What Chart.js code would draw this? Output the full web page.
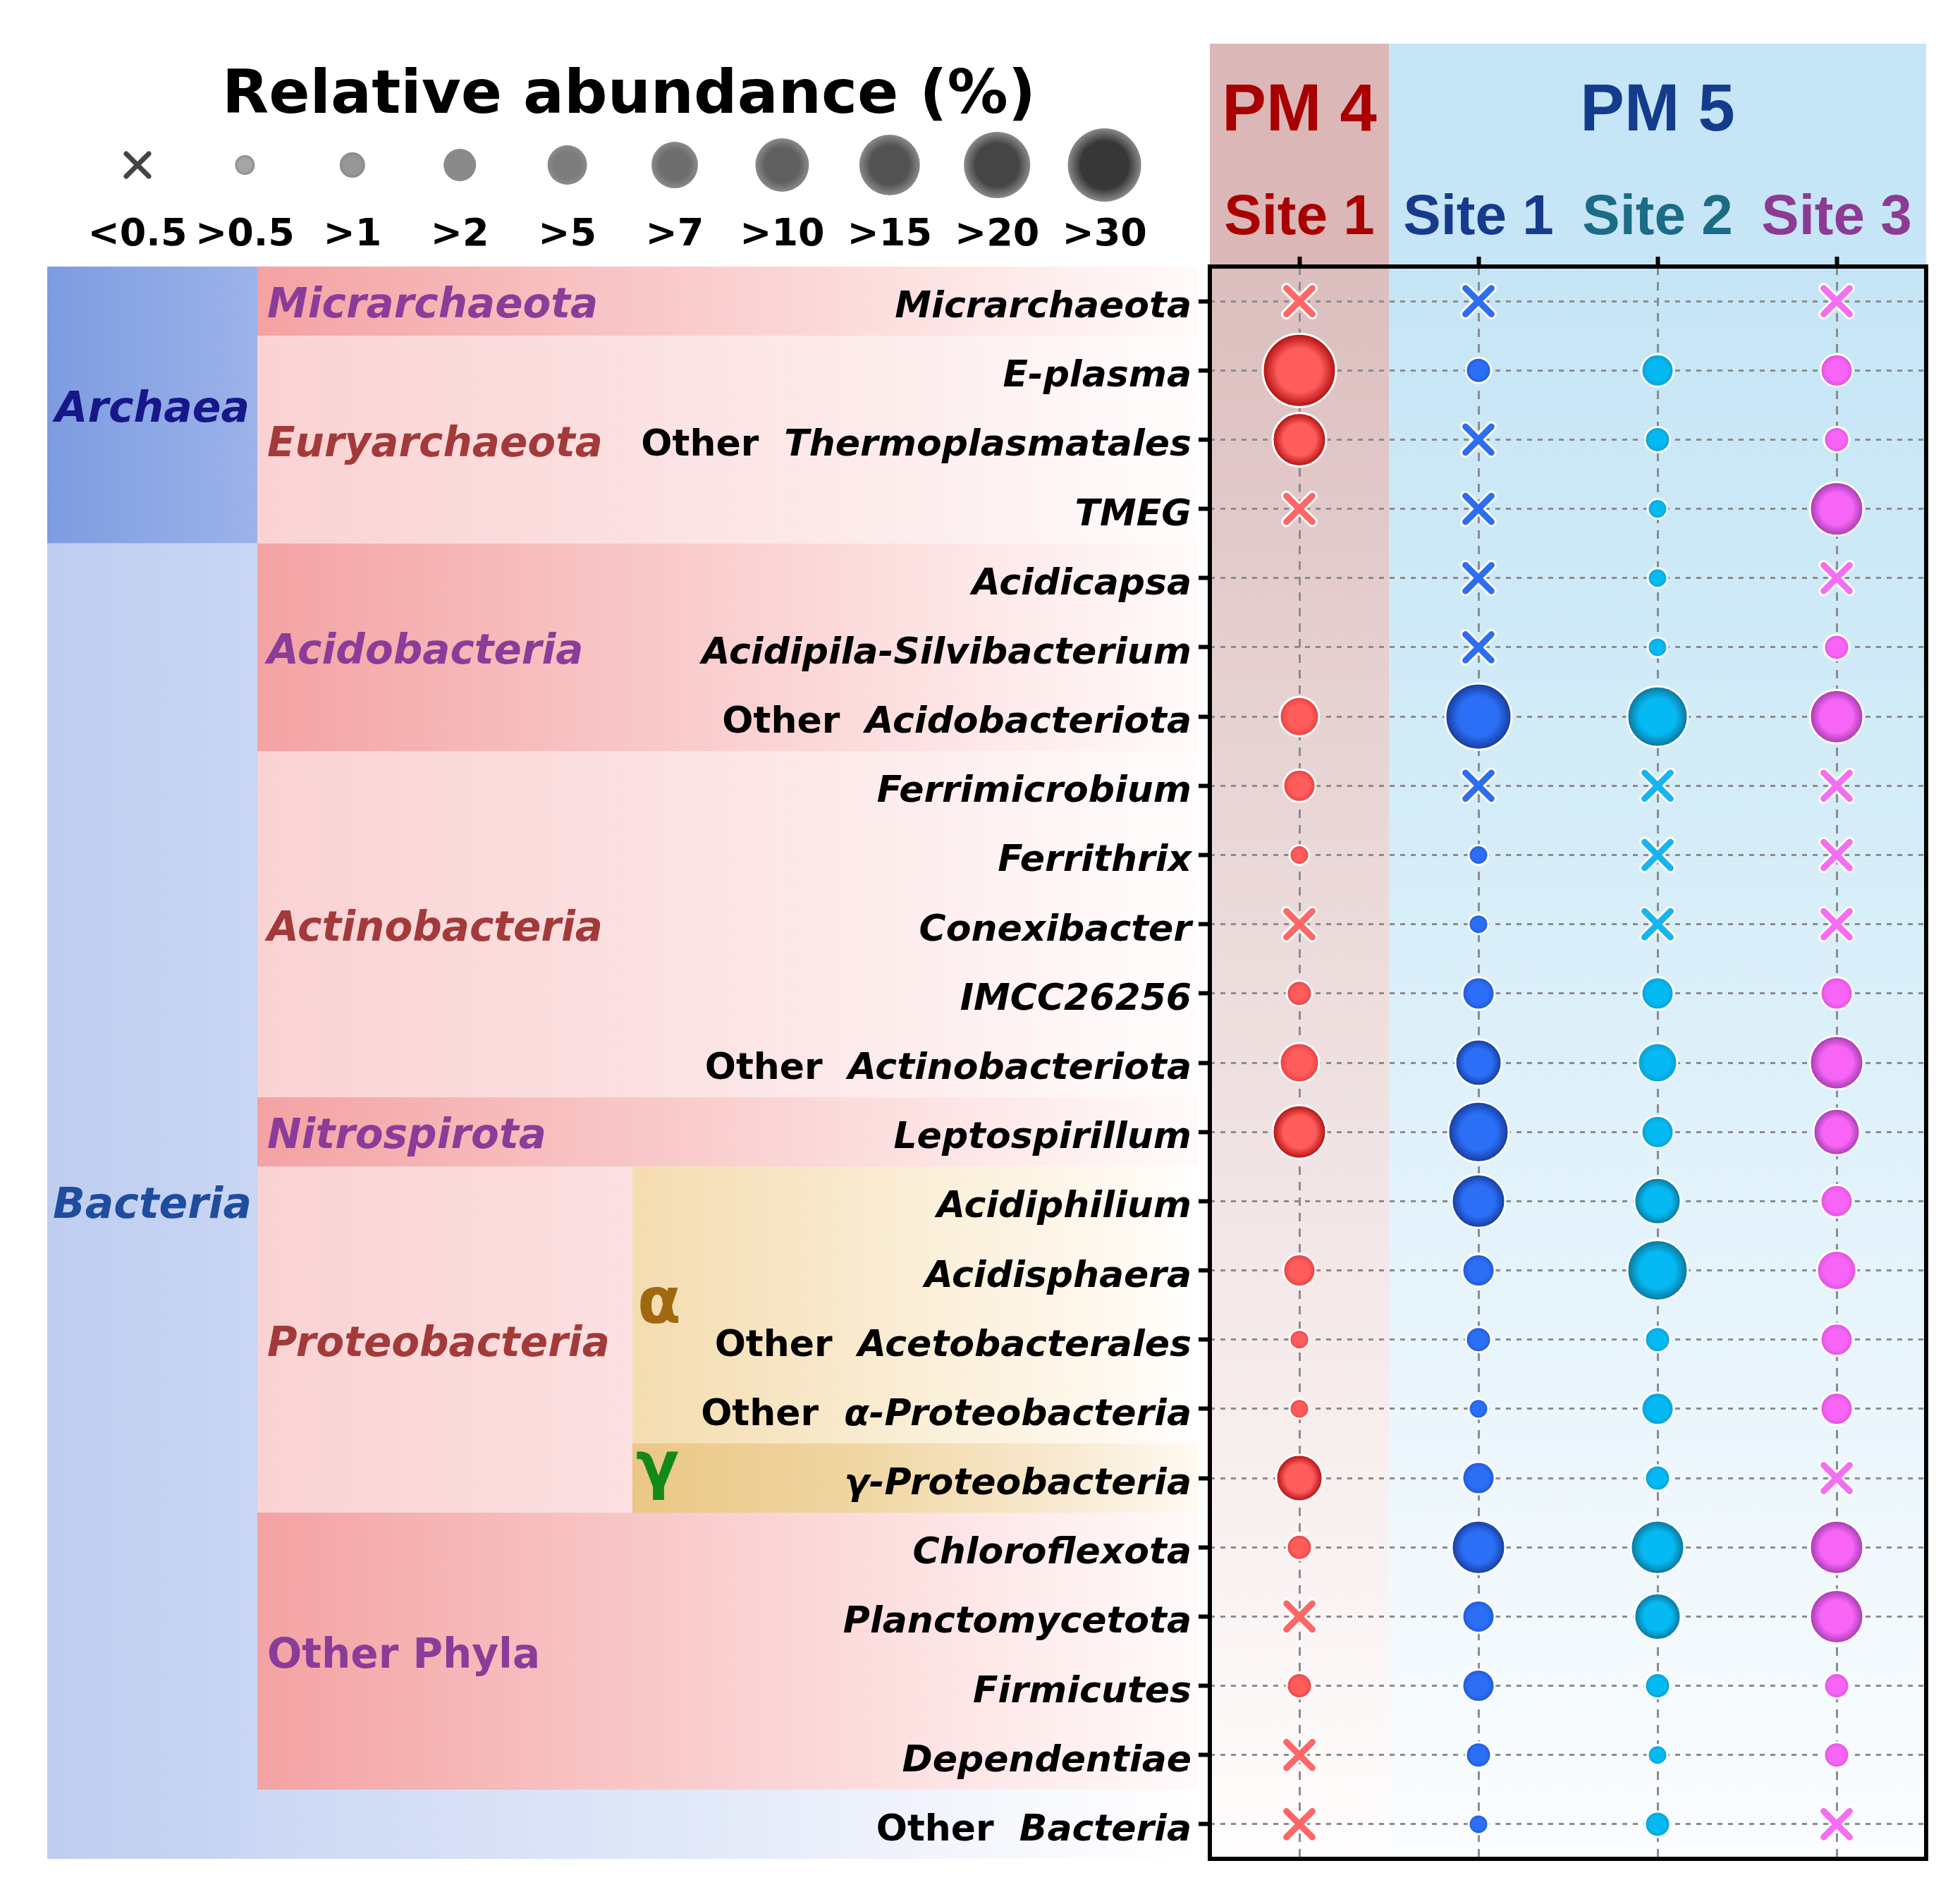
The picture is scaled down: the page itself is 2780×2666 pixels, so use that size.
<!DOCTYPE html>
<html>
<head>
<meta charset="utf-8">
<title>Relative abundance</title>
<script src="https://cdn.jsdelivr.net/npm/chart.js@4.4.1/dist/chart.umd.min.js"></script>
<style>
  html, body { margin: 0; padding: 0; background: #ffffff; }
  #wrap { width: 2780px; height: 2666px; }
  canvas { display: block; }
</style>
</head>
<body>
<div id="wrap"><canvas id="chart" width="2780" height="2666"></canvas></div>
<script>
// 行ラベル（分類群）
const taxa = [
  "Micrarchaeota", "E-plasma", "Other Thermoplasmatales", "TMEG",
  "Acidicapsa", "Acidipila-Silvibacterium", "Other Acidobacteriota",
  "Ferrimicrobium", "Ferrithrix", "Conexibacter", "IMCC26256", "Other Actinobacteriota",
  "Leptospirillum",
  "Acidiphilium", "Acidisphaera", "Other Acetobacterales", "Other α-Proteobacteria",
  "γ-Proteobacteria",
  "Chloroflexota", "Planctomycetota", "Firmicutes", "Dependentiae",
  "Other Bacteria",
];

// 列（サイト）
const siteKeys = ["PM4 Site 1", "PM5 Site 1", "PM5 Site 2", "PM5 Site 3"];
const siteLabels = ["Site 1", "Site 1", "Site 2", "Site 3"];
const mineLabels = ["PM 4", "PM 5"];

// 凡例の階級（0 = <0.5 は×印）
const abundanceLabels = ["<0.5", ">0.5", ">1", ">2", ">5", ">7", ">10", ">15", ">20", ">30"];

// 各サイトの相対存在量の階級（null = 記号なし）
const pm4Site1 = [0, 9, 6, 0, null, null, 4, 3, 1, 0, 2, 4, 6, null, 3, 1, 1, 5, 2, 0, 2, 0, 0];
const pm5Site1 = [0, 2, 0, 0, 0, 0, 8, 0, 1, 1, 3, 5, 7, 6, 3, 2, 1, 3, 6, 3, 3, 2, 1];
const pm5Site2 = [null, 3, 2, 1, 1, 1, 7, 0, 0, 0, 3, 4, 3, 5, 7, 2, 3, 2, 6, 5, 2, 1, 2];
const pm5Site3 = [0, 3, 2, 6, 0, 2, 6, 0, 0, 0, 3, 6, 5, 3, 4, 3, 3, 0, 6, 6, 2, 2, 0];

// 分類グループ
const domains = [
  { name: "Archaea", from: 0, to: 3 },
  { name: "Bacteria", from: 4, to: 22 },
];
const phyla = [
  { name: "Micrarchaeota", from: 0, to: 0, strong: true },
  { name: "Euryarchaeota", from: 1, to: 3, strong: false },
  { name: "Acidobacteria", from: 4, to: 6, strong: true },
  { name: "Actinobacteria", from: 7, to: 11, strong: false },
  { name: "Nitrospirota", from: 12, to: 12, strong: true },
  { name: "Proteobacteria", from: 13, to: 17, strong: false },
  { name: "Other Phyla", from: 18, to: 21, strong: true },
];
const proteoClasses = [
  { name: "α", from: 13, to: 16 },
  { name: "γ", from: 17, to: 17 },
];

// スタイル
const FONT = '"DejaVu Sans", sans-serif';
const HEAD_FONT = '"Liberation Sans", Arial, sans-serif';
const radiusByClass = [0, 14, 18, 23, 28, 33, 38, 43, 47, 52];
const crossRadius = 26;
const siteColors = [
  { light: "#ff5c5c", mid: "#e84040", dark: "#b00f0f", cross: "#ff6666", head: "#a80000" },
  { light: "#2a6ff6", mid: "#2358d2", dark: "#173a9a", cross: "#2d6ef0", head: "#163a8c" },
  { light: "#05b9f2", mid: "#0aa0d2", dark: "#0b7397", cross: "#18b4ee", head: "#1b6c86" },
  { light: "#f865f6", mid: "#dc54de", dark: "#a13cae", cross: "#f46ef4", head: "#8c3a94" },
];
const mineColors = ["#a80000", "#143c8c"];
const purple = "#8b3c99";
const brick = "#a33a3a";

// バブルの放射グラデーション
function bubbleFill(context, c) {
  const chart = context.chart;
  const raw = context.raw;
  if (!raw || !chart.scales.x || !context.parsed) return c.light;
  const px = chart.scales.x.getPixelForValue(context.parsed.x);
  const py = chart.scales.y.getPixelForValue(context.parsed.y);
  if (!isFinite(px) || !isFinite(py)) return c.light;
  const r = raw.r;
  const g = chart.ctx.createRadialGradient(px, py, 0, px, py, r);
  g.addColorStop(0, c.light);
  g.addColorStop(0.6, c.light);
  g.addColorStop(1, r >= 33 ? c.dark : c.mid);
  return g;
}

// データセットの作成
const siteSeries = [pm4Site1, pm5Site1, pm5Site2, pm5Site3];
const datasets = [];
siteSeries.forEach((series, s) => {
  const bubbles = [];
  const crosses = [];
  series.forEach((cls, i) => {
    if (cls === null) return;
    if (cls === 0) {
      crosses.push({ x: siteKeys[s], y: taxa[i], r: crossRadius });
    } else {
      bubbles.push({ x: siteKeys[s], y: taxa[i], r: radiusByClass[cls] });
    }
  });
  datasets.push({
    label: siteKeys[s],
    data: bubbles,
    backgroundColor: (ctx) => bubbleFill(ctx, siteColors[s]),
    borderColor: "#ffffff",
    borderWidth: 3,
    order: 1,
  });
  datasets.push({
    label: siteKeys[s] + " <0.5 outline",
    data: crosses,
    pointStyle: "crossRot",
    borderColor: "#ffffff",
    borderWidth: 15,
    order: 3,
  });
  datasets.push({
    label: siteKeys[s] + " <0.5",
    data: crosses,
    pointStyle: "crossRot",
    borderColor: siteColors[s].cross,
    borderWidth: 9,
    order: 2,
  });
});

function hGrad(ctx, x0, x1, stops) {
  const g = ctx.createLinearGradient(x0, 0, x1, 0);
  stops.forEach(([o, c]) => g.addColorStop(o, c));
  return g;
}

function drawCross(ctx, cx, cy, h, color, w) {
  ctx.save();
  ctx.strokeStyle = color;
  ctx.lineWidth = w;
  ctx.lineCap = "round";
  ctx.beginPath();
  ctx.moveTo(cx - h, cy - h);
  ctx.lineTo(cx + h, cy + h);
  ctx.moveTo(cx + h, cy - h);
  ctx.lineTo(cx - h, cy + h);
  ctx.stroke();
  ctx.restore();
}

// 背景（ヘッダー・分類帯・プロット背景）
const backdropPlugin = {
  id: "backdrop",
  beforeDraw(chart) {
    const { ctx, chartArea: a, scales } = chart;
    const ys = scales.y;
    const xs = scales.x;
    const rowTop = (i) => ys.getPixelForValue(i - 0.5);
    const rowBottom = (i) => ys.getPixelForValue(i + 0.5);
    const colL = (j) => xs.getPixelForValue(j - 0.5);
    const colR = (j) => xs.getPixelForValue(j + 0.5);
    const domX0 = 67;
    const domX1 = 365;
    const bandX1 = a.left - 16;
    const headTop = 62;

    ctx.save();
    // ヘッダー
    ctx.fillStyle = "#dbb7b7";
    ctx.fillRect(colL(0), headTop, colR(0) - colL(0), a.top - headTop);
    ctx.fillStyle = "#c6e5f6";
    ctx.fillRect(colL(1), headTop, colR(3) - colL(1), a.top - headTop);

    // プロット背景
    let g = ctx.createLinearGradient(0, a.top, 0, a.bottom);
    g.addColorStop(0, "#dcbebe");
    g.addColorStop(0.3, "#e8d3d3");
    g.addColorStop(0.55, "#f1e3e3");
    g.addColorStop(0.85, "#fbf4f4");
    g.addColorStop(1, "#fffdfd");
    ctx.fillStyle = g;
    ctx.fillRect(colL(0), a.top, colR(0) - colL(0), a.bottom - a.top);
    g = ctx.createLinearGradient(0, a.top, 0, a.bottom);
    g.addColorStop(0, "#c5e5f6");
    g.addColorStop(0.32, "#d3ecf8");
    g.addColorStop(0.58, "#e2f2fb");
    g.addColorStop(0.85, "#f2f9fd");
    g.addColorStop(1, "#fbfdff");
    ctx.fillStyle = g;
    ctx.fillRect(colL(1), a.top, colR(3) - colL(1), a.bottom - a.top);

    // ドメイン列
    const arch = domains[0];
    ctx.fillStyle = hGrad(ctx, domX0, domX1, [[0, "#7d9ce0"], [1, "#9cb3ea"]]);
    ctx.fillRect(domX0, rowTop(arch.from), domX1 - domX0, rowBottom(arch.to) - rowTop(arch.from));
    const bact = domains[1];
    ctx.fillStyle = hGrad(ctx, domX0, domX1, [[0, "#bfcdf0"], [1, "#c9d6f4"]]);
    ctx.fillRect(domX0, rowTop(bact.from), domX1 - domX0, rowBottom(bact.to) - rowTop(bact.from));
    ctx.fillStyle = hGrad(ctx, domX1, bandX1, [[0, "#ccd8f4"], [0.5, "#e3eaf9"], [0.8, "#f6f8fd"], [1, "#ffffff"]]);
    ctx.fillRect(domX1, rowTop(bact.from), bandX1 - domX1, rowBottom(bact.to) - rowTop(bact.from));

    // 門の帯
    const strongStops = [[0, "#f4a2a3"], [0.36, "#f8c3c4"], [0.63, "#fcdbdb"], [0.88, "#fff1f1"], [1, "#fffafa"]];
    const lightStops = [[0, "#fad2d3"], [0.36, "#fcdfe0"], [0.63, "#fdeaea"], [0.88, "#fff7f7"], [1, "#fffcfc"]];
    phyla.forEach((p) => {
      ctx.fillStyle = hGrad(ctx, domX1, bandX1, p.strong ? strongStops : lightStops);
      ctx.fillRect(domX1, rowTop(p.from), bandX1 - domX1, rowBottom(p.to) - rowTop(p.from));
    });

    // 綱の帯（α・γ）
    const clsX0 = 897;
    ctx.fillStyle = hGrad(ctx, clsX0, bandX1, [[0, "#f4dcb0"], [0.5, "#faeed6"], [0.9, "#fffaf3"], [1, "#ffffff"]]);
    ctx.fillRect(clsX0, rowTop(proteoClasses[0].from), bandX1 - clsX0, rowBottom(proteoClasses[0].to) - rowTop(proteoClasses[0].from));
    ctx.fillStyle = hGrad(ctx, clsX0, bandX1, [[0, "#eac785"], [0.4, "#f0d6a2"], [0.8, "#f9ecd6"], [1, "#fffaf2"]]);
    ctx.fillRect(clsX0, rowTop(proteoClasses[1].from), bandX1 - clsX0, rowBottom(proteoClasses[1].to) - rowTop(proteoClasses[1].from));
    ctx.restore();
  },
  beforeDatasetDraw(chart) {
    chart.ctx.lineCap = "round";
  },
  afterDatasetDraw(chart) {
    chart.ctx.lineCap = "butt";
  },
  afterDraw(chart) {
    const { ctx, chartArea: a, scales } = chart;
    const ys = scales.y;
    const xs = scales.x;
    const groupMid = (g) => (ys.getPixelForValue(g.from) + ys.getPixelForValue(g.to)) / 2;

    ctx.save();
    // 枠線
    ctx.strokeStyle = "#000000";
    ctx.lineWidth = 6;
    ctx.strokeRect(a.left, a.top, a.right - a.left, a.bottom - a.top);

    ctx.textBaseline = "alphabetic";

    // 行ラベル
    const rowSize = 52;
    const labelRight = a.left - 26;
    taxa.forEach((name, i) => {
      const base = ys.getPixelForValue(i) + 0.365 * rowSize + 4;
      ctx.fillStyle = "#000000";
      ctx.textAlign = "right";
      if (name.startsWith("Other ")) {
        const rest = name.slice(6);
        ctx.font = `italic bold ${rowSize}px ${FONT}`;
        ctx.fillText(rest, labelRight, base);
        const w = ctx.measureText(rest).width;
        ctx.font = `bold ${rowSize}px ${FONT}`;
        ctx.fillText("Other", labelRight - w - 36, base);
      } else {
        ctx.font = `italic bold ${rowSize}px ${FONT}`;
        ctx.fillText(name, labelRight, base);
      }
    });

    // 門ラベル
    const phySize = 58;
    ctx.textAlign = "left";
    phyla.forEach((p, k) => {
      const upright = p.name === "Other Phyla";
      ctx.font = `${upright ? "" : "italic "}bold ${phySize}px ${FONT}`;
      ctx.fillStyle = k % 2 === 0 ? purple : brick;
      ctx.fillText(p.name, 379, groupMid(p) + 0.365 * phySize + 2);
    });

    // 綱記号
    ctx.font = `bold 90px ${FONT}`;
    ctx.fillStyle = "#a0680f";
    ctx.fillText(proteoClasses[0].name, 904, groupMid(proteoClasses[0]) + 25);
    ctx.fillStyle = "#13891a";
    ctx.fillText(proteoClasses[1].name, 902, groupMid(proteoClasses[1]) + 12);

    // ドメインラベル
    ctx.textAlign = "center";
    ctx.font = `italic bold 60px ${FONT}`;
    ctx.fillStyle = "#17178a";
    ctx.fillText(domains[0].name, 216, groupMid(domains[0]) + 24);
    ctx.fillStyle = "#1f4c9c";
    ctx.fillText(domains[1].name, 216, groupMid(domains[1]) + 24);

    // ヘッダー（鉱山・サイト）
    ctx.font = `bold 94px ${HEAD_FONT}`;
    ctx.fillStyle = mineColors[0];
    ctx.fillText(mineLabels[0], xs.getPixelForValue(0), 185);
    ctx.fillStyle = mineColors[1];
    ctx.fillText(mineLabels[1], xs.getPixelForValue(2), 185);
    ctx.font = `bold 80px ${HEAD_FONT}`;
    siteLabels.forEach((lab, j) => {
      ctx.fillStyle = siteColors[j].head;
      ctx.fillText(lab, xs.getPixelForValue(j), 332);
    });

    // 凡例
    ctx.fillStyle = "#000000";
    ctx.font = `bold 86px ${FONT}`;
    ctx.fillText("Relative abundance (%)", 892, 160);
    ctx.font = `bold 54px ${FONT}`;
    abundanceLabels.forEach((lab, k) => {
      const cx = 195 + k * 152.4;
      const cy = 234;
      if (k === 0) {
        drawCross(ctx, cx, cy, 16, "#444444", 7);
      } else {
        const r = radiusByClass[k];
        const shade = Math.round(165 - ((k - 1) / 8) * 110);
        const c = `rgb(${shade},${shade},${shade})`;
        const g = ctx.createRadialGradient(cx, cy, 0, cx, cy, r);
        g.addColorStop(0, c);
        g.addColorStop(0.65, c);
        g.addColorStop(1, "#8a8a8a");
        ctx.fillStyle = g;
        ctx.beginPath();
        ctx.arc(cx, cy, r, 0, Math.PI * 2);
        ctx.fill();
      }
      ctx.fillStyle = "#000000";
      ctx.fillText(lab, cx, 348);
    });
    ctx.restore();
  },
};

// グラフの描画
const chart = new Chart(document.getElementById("chart"), {
  type: "bubble",
  data: { datasets: datasets },
  options: {
    responsive: false,
    animation: false,
    events: [],
    layout: {
      autoPadding: false,
      padding: { left: 1700, top: 364, right: 48, bottom: 30 },
    },
    plugins: {
      legend: { display: false },
      tooltip: { enabled: false },
    },
    scales: {
      x: {
        type: "category",
        position: "top",
        labels: siteKeys,
        offset: true,
        grid: {
          color: "#8c8c8c",
          lineWidth: 3,
          drawTicks: true,
          tickLength: 14,
          tickColor: "#000000",
          tickWidth: 6,
        },
        border: { display: false, dash: [12, 10] },
        ticks: { display: false },
        afterFit: (scale) => {
          scale.height = 14;
        },
      },
      y: {
        type: "category",
        position: "left",
        labels: taxa,
        offset: true,
        grid: {
          color: "#8c8c8c",
          lineWidth: 3,
          drawTicks: true,
          tickLength: 16,
          tickColor: "#000000",
          tickWidth: 6,
        },
        border: { display: false, dash: [7, 8] },
        ticks: { display: false },
        afterFit: (scale) => {
          scale.width = 16;
        },
      },
    },
  },
  plugins: [backdropPlugin],
});
</script>
</body>
</html>
